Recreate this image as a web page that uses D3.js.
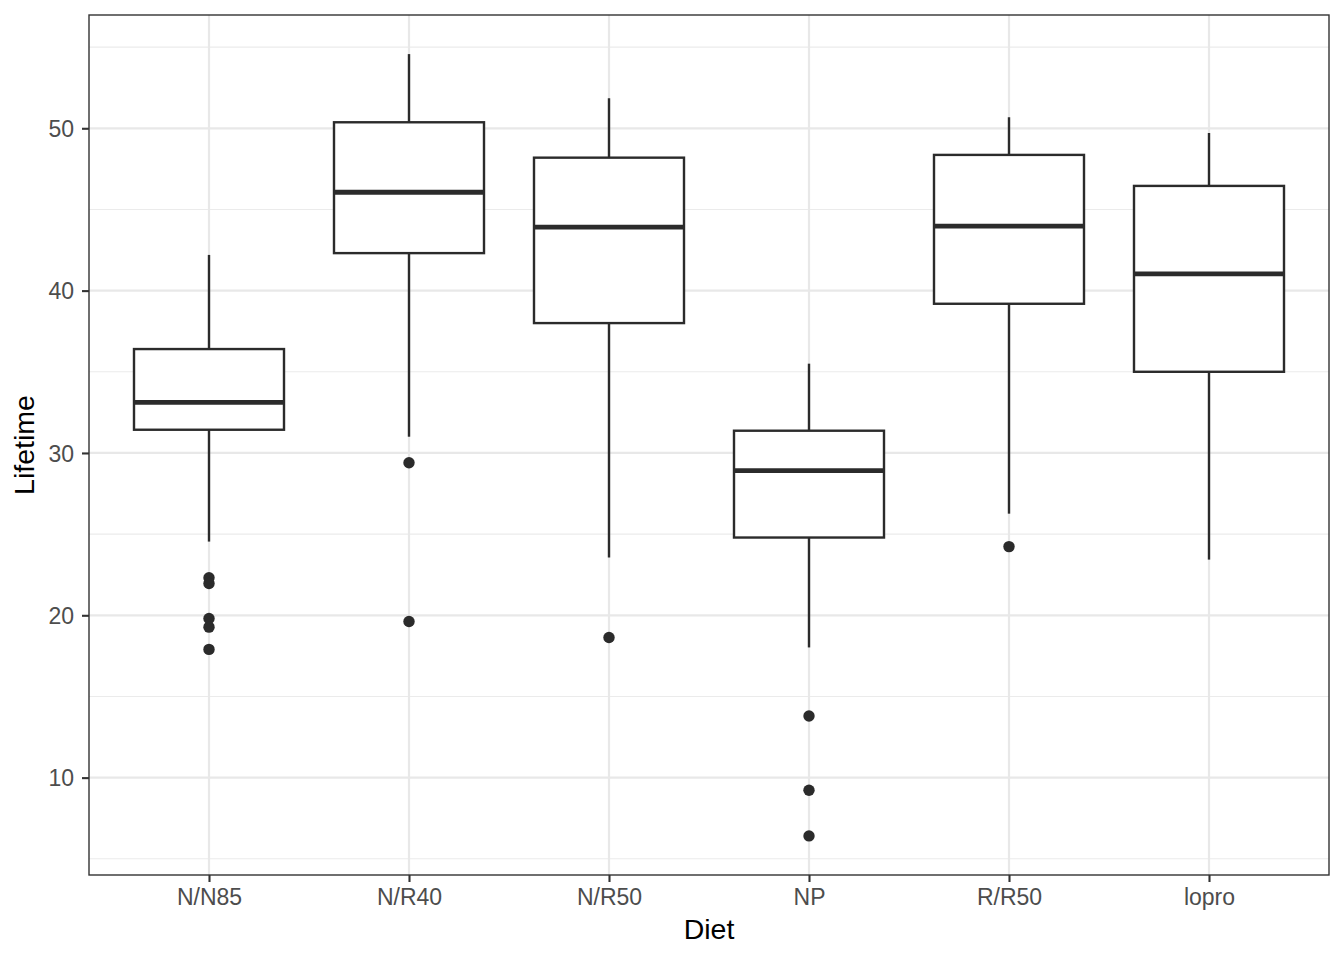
<!DOCTYPE html>
<html>
<head>
<meta charset="utf-8">
<script src="https://cdn.jsdelivr.net/npm/d3@7"></script>
<style>
  html, body { margin: 0; padding: 0; background: #fff; }
  svg { display: block; }
  text { font-family: "Liberation Sans", Arial, sans-serif; }
</style>
</head>
<body>
<svg id="chart" width="1344" height="960"></svg>
<script>
// Data
const diets     = ["N/N85", "N/R40", "N/R50", "NP", "R/R50", "lopro"];
const whiskerLo = [24.54, 31.0, 23.56, 18.02, 26.26, 23.43];
const q1        = [31.43, 42.31, 38.0, 24.79, 39.19, 35.0];
const medians   = [33.11, 46.06, 43.91, 28.91, 43.97, 41.03];
const q3        = [36.4, 50.37, 48.19, 31.37, 48.36, 46.45];
const whiskerHi = [42.2, 54.57, 51.85, 35.5, 50.68, 49.71];
const outliers  = [
  [22.31, 21.96, 19.80, 19.27, 17.90],
  [29.4, 19.62],
  [18.63],
  [13.8, 9.22, 6.41],
  [24.23],
  []
];
const yTicks = [10, 20, 30, 40, 50];
const yMinor = [5, 15, 25, 35, 45, 55];

const boxes = diets.map((d, i) => ({
  diet: d, lo: whiskerLo[i], q1: q1[i], med: medians[i], q3: q3[i], hi: whiskerHi[i], out: outliers[i]
}));

const svg = d3.select("#chart");
const pLeft = 89, pRight = 1329, pTop = 15, pBottom = 875;
const ink = "#2b2b2b";

// y domain with ggplot-style 5% expansion
const allVals = boxes.flatMap(b => [b.lo, b.hi, ...b.out]);
const ymin = d3.min(allVals), ymax = d3.max(allVals);
const pad = (ymax - ymin) * 0.05;
const y = d3.scaleLinear().domain([ymin - pad, ymax + pad]).range([pBottom, pTop]);

// discrete x with 0.6 expansion each side
const x = d3.scalePoint().domain(diets).range([pLeft, pRight]).padding(0.6);
const step = x.step();
const boxW = step * 0.75;

// panel background
svg.append("rect").attr("x", pLeft).attr("y", pTop).attr("width", pRight - pLeft).attr("height", pBottom - pTop).attr("fill", "#fff");

const grid = svg.append("g");
grid.selectAll("line.minor").data(yMinor.filter(v => y(v) > pTop && y(v) < pBottom)).join("line")
  .attr("x1", pLeft).attr("x2", pRight).attr("y1", d => y(d)).attr("y2", d => y(d))
  .attr("stroke", "#ebebeb").attr("stroke-width", 1.1);
grid.selectAll("line.majory").data(yTicks).join("line")
  .attr("x1", pLeft).attr("x2", pRight).attr("y1", d => y(d)).attr("y2", d => y(d))
  .attr("stroke", "#e8e8e8").attr("stroke-width", 2.2);
grid.selectAll("line.majorx").data(diets).join("line")
  .attr("y1", pTop).attr("y2", pBottom).attr("x1", d => x(d)).attr("x2", d => x(d))
  .attr("stroke", "#e8e8e8").attr("stroke-width", 2.2);

// boxplots
const g = svg.append("g");
boxes.forEach(b => {
  const cx = x(b.diet);
  g.append("line").attr("x1", cx).attr("x2", cx).attr("y1", y(b.hi)).attr("y2", y(b.q3))
    .attr("stroke", ink).attr("stroke-width", 2.4);
  g.append("line").attr("x1", cx).attr("x2", cx).attr("y1", y(b.q1)).attr("y2", y(b.lo))
    .attr("stroke", ink).attr("stroke-width", 2.4);
  g.append("rect").attr("x", cx - boxW / 2).attr("width", boxW)
    .attr("y", y(b.q3)).attr("height", y(b.q1) - y(b.q3))
    .attr("fill", "#fff").attr("stroke", ink).attr("stroke-width", 2.4);
  g.append("line").attr("x1", cx - boxW / 2).attr("x2", cx + boxW / 2).attr("y1", y(b.med)).attr("y2", y(b.med))
    .attr("stroke", ink).attr("stroke-width", 4.8);
  g.selectAll(null).data(b.out).join("circle")
    .attr("cx", cx).attr("cy", d => y(d)).attr("r", 5.7).attr("fill", ink);
});

// panel border
svg.append("rect").attr("x", pLeft).attr("y", pTop).attr("width", pRight - pLeft).attr("height", pBottom - pTop)
  .attr("fill", "none").attr("stroke", "#333333").attr("stroke-width", 1.4);

// axes
const yAxis = svg.append("g").attr("transform", `translate(${pLeft},0)`)
  .call(d3.axisLeft(y).tickValues(yTicks).tickSize(7).tickPadding(8));
const xAxis = svg.append("g").attr("transform", `translate(0,${pBottom})`)
  .call(d3.axisBottom(x).tickSize(7).tickPadding(7));
[yAxis, xAxis].forEach(a => {
  a.select(".domain").remove();
  a.selectAll(".tick line").attr("stroke", "#333333").attr("stroke-width", 2.1);
  a.selectAll(".tick text").attr("fill", "#4d4d4d").style("font-size", "23px")
    .style("font-family", "'Liberation Sans', Arial, sans-serif");
});
yAxis.selectAll(".tick text").attr("dy", "0.36em");

// axis titles
svg.append("text").attr("x", (pLeft + pRight) / 2).attr("y", 939).attr("text-anchor", "middle")
  .style("font-size", "28.5px").attr("fill", "#000").text("Diet");
svg.append("text").attr("transform", `translate(34,${(pTop + pBottom) / 2}) rotate(-90)`)
  .attr("text-anchor", "middle").style("font-size", "28.5px").attr("fill", "#000").text("Lifetime");
</script>
</body>
</html>
